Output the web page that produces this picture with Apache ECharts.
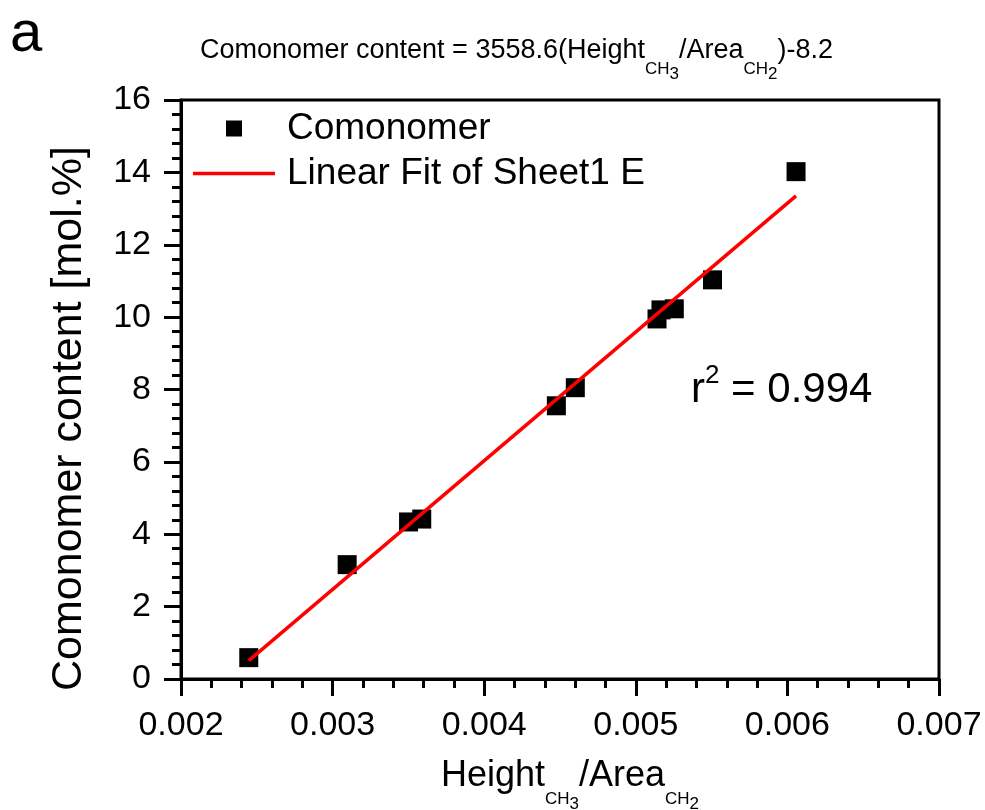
<!DOCTYPE html>
<html><head><meta charset="utf-8">
<script src="https://cdn.jsdelivr.net/npm/echarts@6/dist/echarts.min.js"></script>
<style>html,body{margin:0;padding:0;background:#fff}#c{width:985px;height:810px}</style>
</head><body><div id="c"></div>
<script>
// ---- data ----
const ratioX   = [0.002447, 0.003096, 0.003501, 0.003588, 0.004476, 0.004601, 0.005140, 0.005166, 0.005254, 0.005506, 0.006057];
const contentY = [0.59, 3.16, 4.34, 4.42, 7.55, 8.05, 9.95, 10.20, 10.23, 11.03, 14.02];
const fitX = [0.002447, 0.006057];
const fitY = [0.51, 13.35];
const xRange = [0.002, 0.007, 0.001];   // min, max, interval
const yRange = [0, 16, 2];
const seriesNames = ['Comonomer', 'Linear Fit of Sheet1 E'];
const r2Text = '0.994';
const equationText = ['Comonomer content = 3558.6(Height', 'CH', '3', '/Area', 'CH', '2', ')-8.2'];
const xTitle = ['Height', 'CH', '3', '/Area', 'CH', '2'];
const yTitle = 'Comonomer content [mol.%]';
const panelLabel = 'a';

const F = '"Liberation Sans", Arial, sans-serif';

const scatterData = ratioX.map((x, i) => [x, contentY[i]]);
const fitData = fitX.map((x, i) => [x, fitY[i]]);

const chart = echarts.init(document.getElementById('c'));
const axisCommon = {
  axisLine: { show: true, onZero: false, lineStyle: { color: '#000', width: 3 } },
  axisTick: { show: true, inside: false, length: 17, lineStyle: { color: '#000', width: 3 } },
  minorTick: { show: true, splitNumber: 5, length: 9, lineStyle: { color: '#000', width: 3 } },
  splitLine: { show: false },
  minorSplitLine: { show: false }
};
const txt = (size, extra) => Object.assign({ fontFamily: F, fontSize: size, fontWeight: 'normal', color: '#000' }, extra || {});
const gtxt = (size, extra) => Object.assign({ fontFamily: F, fontSize: size, fontWeight: 'normal', fill: '#000' }, extra || {});
chart.setOption({
  animation: false,
  backgroundColor: '#fff',
  title: [
    { text: panelLabel, left: 10, top: 6, padding: 0, textStyle: txt(58) },
    { text: `{n|r}{sup|2}{n| = ${r2Text}}`, left: 691, top: 363, padding: 0,
      textStyle: { fontWeight: 'normal', rich: {
        n: txt(42),
        sup: txt(26, { padding: [0, 0, 28, 0] })
      } } }
  ],
  graphic: [
    { type: 'text', left: 200, top: 37, silent: true,
      style: {
        text: `{m|${equationText[0]}}{s|${equationText[1]}}{t|${equationText[2]}}{m|${equationText[3]}}{s|${equationText[4]}}{t|${equationText[5]}}{m|${equationText[6]}}`,
        fill: '#000', fontFamily: F, fontSize: 27,
        rich: {
          m: gtxt(27),
          s: gtxt(17, { padding: [38, 0, 0, 0] }),
          t: gtxt(17, { padding: [48, 0, 0, 0] })
        }
      } }
  ],
  legend: [
    { data: [seriesNames[0]], left: 221, top: 105, itemWidth: 16, itemHeight: 16, icon: 'rect',
      selectedMode: false, textStyle: txt(37, { padding: [0, 0, 0, 40] }) },
    { data: [seriesNames[1]], left: 188, top: 150, itemWidth: 82, itemHeight: 3.5, icon: 'rect',
      selectedMode: false, textStyle: txt(37, { padding: [0, 0, 0, 7] }) }
  ],
  grid: { left: 181, right: 46, top: 100, bottom: 131, outerBoundsMode: 'none', containLabel: false,
    show: true, borderColor: '#000', borderWidth: 3, backgroundColor: 'transparent' },
  xAxis: Object.assign({
    type: 'value', min: xRange[0], max: xRange[1], interval: xRange[2],
    axisLabel: txt(34, { margin: 30, formatter: v => v.toFixed(3) }),
    name: `{m|${xTitle[0]}}{s|${xTitle[1]}}{t|${xTitle[2]}}{m|${xTitle[3]}}{s|${xTitle[4]}}{t|${xTitle[5]}}`,
    nameLocation: 'middle', nameGap: 61,
    nameTextStyle: { padding: [0, 0, 0, 20], rich: {
      m: txt(36),
      s: txt(17, { padding: [46, 0, 0, 0] }),
      t: txt(17, { padding: [56, 0, 0, 0] })
    } }
  }, axisCommon),
  yAxis: Object.assign({
    type: 'value', min: yRange[0], max: yRange[1], interval: yRange[2],
    axisLabel: txt(34, { margin: 30 }),
    name: yTitle, nameLocation: 'middle', nameGap: 90, nameRotate: 90,
    nameTextStyle: txt(43, { padding: [0, 58, 0, 0] })
  }, axisCommon),
  series: [
    { name: seriesNames[0], type: 'scatter', data: scatterData, symbol: 'rect', symbolSize: 19,
      itemStyle: { color: '#000', opacity: 1 }, z: 2 },
    { name: seriesNames[1], type: 'line', data: fitData, showSymbol: false, symbol: 'none',
      lineStyle: { color: '#ff0000', width: 3.5 }, itemStyle: { color: '#ff0000' }, z: 3 }
  ]
});
</script>
</body></html>
